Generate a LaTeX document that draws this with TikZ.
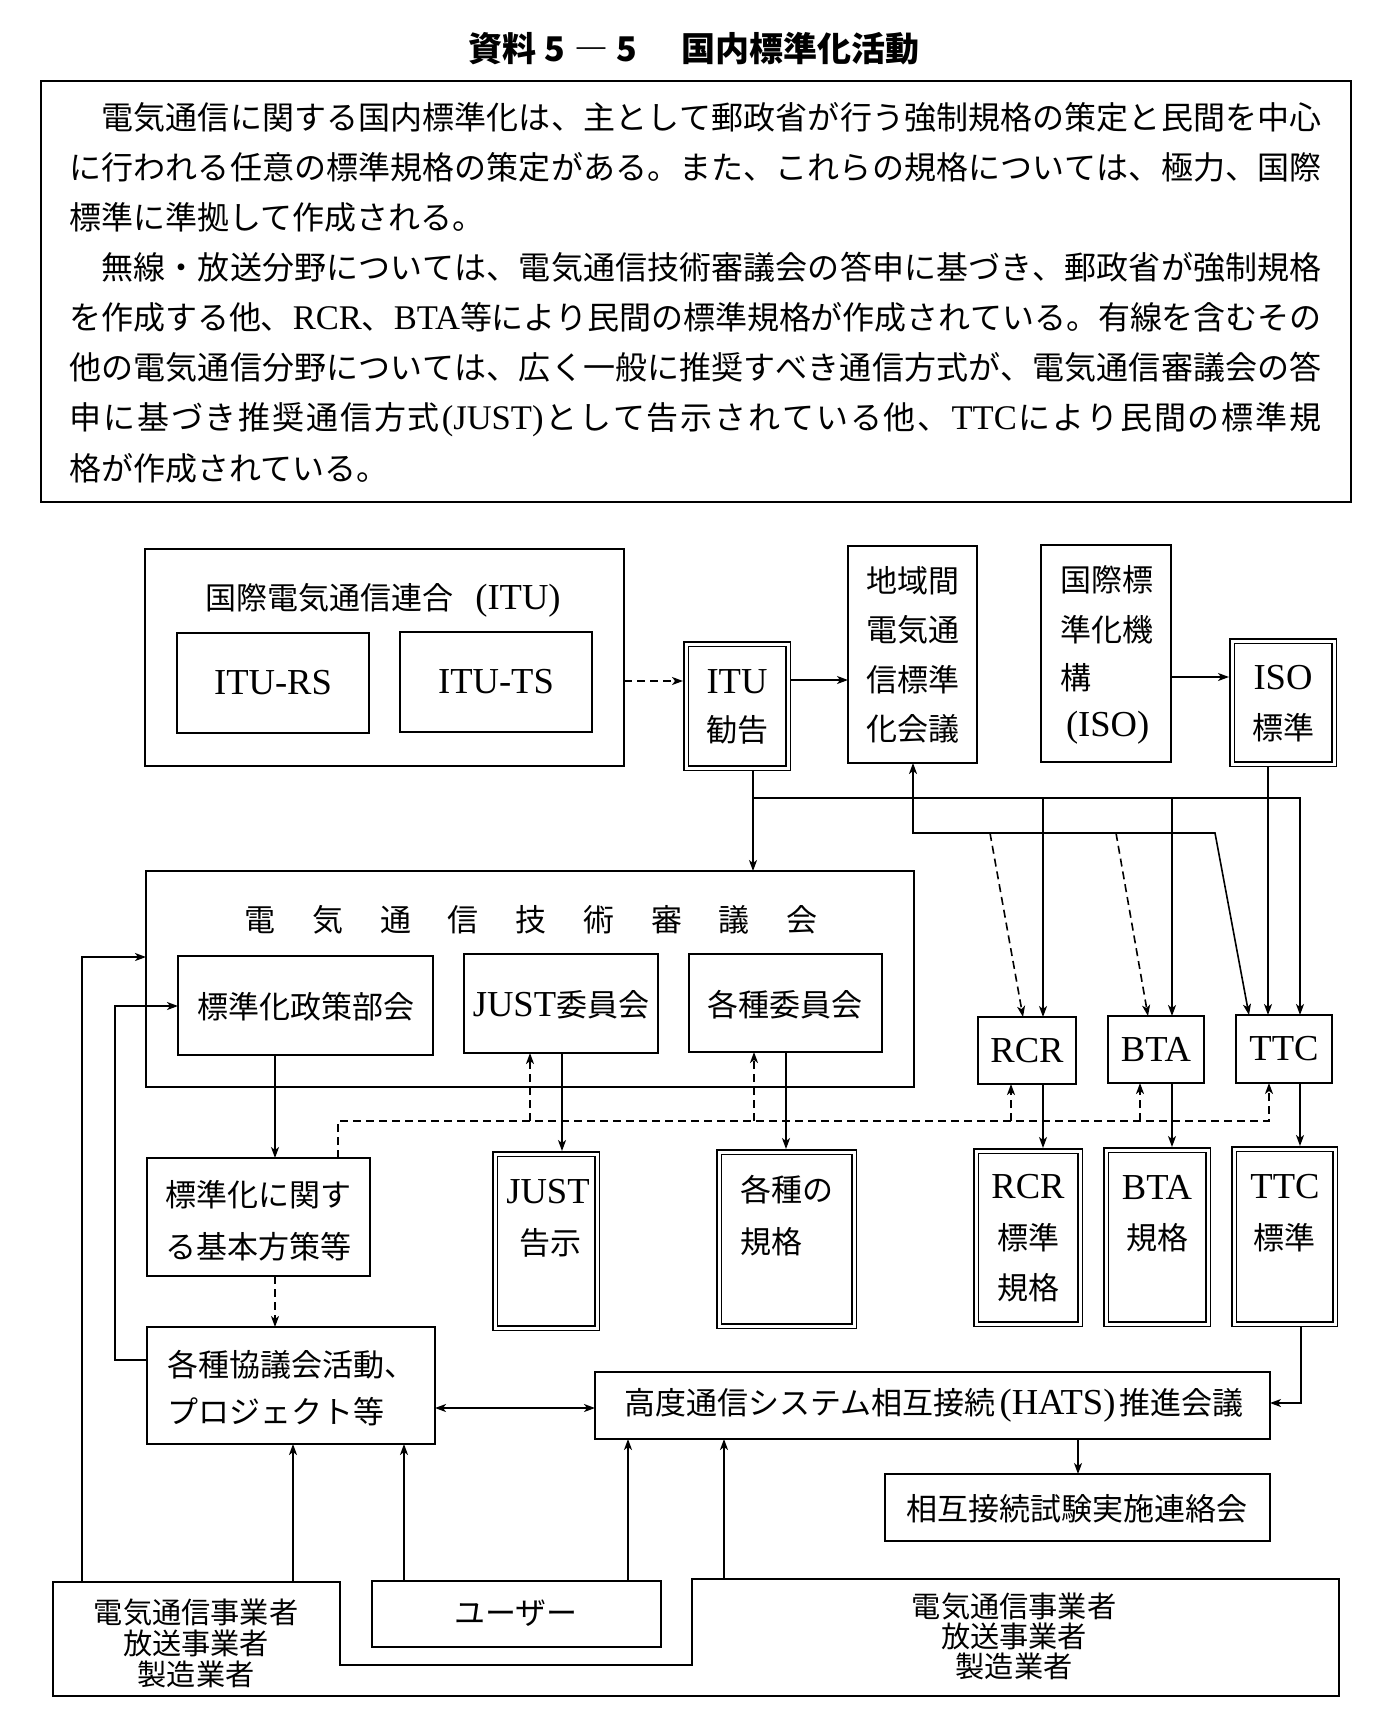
\documentclass[tikz,border=0pt]{standalone}
\usepackage{fontspec}
\setmainfont{Noto Sans CJK JP}
\newfontfamily\latn{Liberation Serif}[Scale=1.18]
\newfontfamily\latb{Liberation Serif}[Scale=1.08]
\usetikzlibrary{arrows.meta}
\makeatletter
\newlength\linew \setlength\linew{626pt}
\def\jl@end{\jl@end}
\newcommand\jline[1]{\hbox to \linew{\jl@first#1\jl@end}}
\def\jl@first#1{#1\jl@next}
\def\jl@next#1{\ifx\jl@end#1\else\hskip 0pt plus 1fil minus 1fil\relax #1\expandafter\jl@next\fi}
\makeatother
\newcommand\dfont{\fontsize{15.5}{18}\selectfont}
\newcommand\sfont{\fontsize{14.6}{15}\selectfont}
\newcommand\bodyf{\fontsize{16}{20}\selectfont}
\newcommand\bx[6][box]{\node[#1,minimum width={(#4-#2)*0.5pt},minimum height={(#5-#3)*0.5pt}] (#6) at ({(#2+#4)/2},{(#3+#5)/2}) {};}
\tikzset{
  box/.style={draw, line width=0.9pt, inner sep=0pt, outer sep=0pt},
  frame/.style={draw, line width=1.1pt, inner sep=0pt, outer sep=0pt},
  inv/.style={inner sep=0pt, outer sep=0pt},
  dbl/.style={draw, double, line width=0.75pt, double distance=1.5pt, inner sep=0pt, outer sep=1.5pt},
  con/.style={line width=0.8pt},
  arr/.style={-{Stealth[length=5.5pt,width=4pt,inset=1.5pt]}},
  arrb/.style={{Stealth[length=5.5pt,width=4pt,inset=1.5pt]}-{Stealth[length=5.5pt,width=4pt,inset=1.5pt]}},
  dsh/.style={dash pattern=on 4pt off 2.5pt},
  txt/.style={inner sep=0pt, outer sep=0pt, font=\dfont},
  stxt/.style={inner sep=0pt, outer sep=0pt, font=\sfont},
  bl/.style={inner sep=0pt, outer sep=0pt, anchor=base west, font=\bodyf},
}
\begin{document}
\begin{tikzpicture}[x=0.5pt,y=-0.5pt]
\useasboundingbox (0,0) rectangle (1389,1729);
\fill[white] (0,0) rectangle (1389,1729);

% title
\node[inner sep=0pt] (title) at (694,49) {\fontsize{17}{17}\selectfont\bfseries 資料\hspace{4pt}5\hspace{5pt}―\hspace{4pt}5\hspace{22pt}国内標準化活動};

% text frame
\bx[frame]{41}{81}{1351}{502}{tframe}
\node[bl] (l1) at (69.5,129) {\jline{{\kern16pt}電気通信に関する国内標準化は、主として郵政省が行う強制規格の策定と民間を中心}};
\node[bl] (l2) at (69.5,179) {\jline{に行われる任意の標準規格の策定がある。また、これらの規格については、極力、国際}};
\node[bl] (l3) at (69.5,229) {標準に準拠して作成される。};
\node[bl] (l4) at (69.5,279.5) {\jline{{\kern16pt}無線・放送分野については、電気通信技術審議会の答申に基づき、郵政省が強制規格}};
\node[bl] (l5) at (69.5,329.5) {\jline{を作成する他、{{\latb RCR}}、{{\latb BTA}}等により民間の標準規格が作成されている。有線を含むその}};
\node[bl] (l6) at (69.5,379.5) {\jline{他の電気通信分野については、広く一般に推奨すべき通信方式が、電気通信審議会の答}};
\node[bl] (l7) at (69.5,429.5) {\jline{申に基づき推奨通信方式{{\latb (JUST)}}として告示されている他、{{\latb TTC}}により民間の標準規}};
\node[bl] (l8) at (69.5,480) {格が作成されている。};

% ITU
\bx{145}{549}{624}{766}{ituorg}
\node[txt] (ituorgT) at (383,600) {国際電気通信連合\hspace{11pt}{\latn (ITU)}};
\bx{177}{633}{369}{733}{itursbox}
\node[txt] (itursT) at (itursbox) {\latn ITU-RS};
\bx{400}{632}{592}{732}{itutsbox}
\node[txt] (itutsT) at (itutsbox) {\latn ITU-TS};
\bx[dbl]{686}{644}{788}{768}{itukk}
\node[txt] (itukkA) at (737,682) {\latn ITU};
\node[txt] (itukkB) at (737,730) {勧告};
\bx{848}{546}{977}{763}{chiiki}
\node[txt] (chA) at (912.5,581) {地域間};
\node[txt] (chB) at (912.5,630) {電気通};
\node[txt] (chC) at (912.5,680) {信標準};
\node[txt] (chD) at (912.5,729) {化会議};
\bx{1041}{545}{1171}{762}{isoorg}
\node[txt,anchor=west] (isA) at (1060,580) {国際標};
\node[txt,anchor=west] (isB) at (1060,630) {準化機};
\node[txt,anchor=west] (isC) at (1060,678) {構};
\node[txt,anchor=west] (isD) at (1066,728) {\latn (ISO)};
\bx[dbl]{1232}{641}{1334}{764}{isokk}
\node[txt] (isokkA) at (1283,678) {\latn ISO};
\node[txt] (isokkB) at (1283,728) {標準};

% council
\bx{146}{871}{914}{1087}{tech}
\foreach \c [count=\i from 0] in {電,気,通,信,技,術,審,議,会} {\node[txt] (gi\i) at ({260+67.75*\i},920) {\c};}
\bx{178}{956}{433}{1055}{seisaku}
\node[txt] (seisakuT) at (306,1007) {標準化政策部会};
\bx{464}{954}{658}{1053}{justiin}
\node[txt] (justiinT) at (561,1005) {{\latn JUST}委員会};
\bx{689}{954}{882}{1052}{kakushu}
\node[txt] (kakushuT) at (785,1005) {各種委員会};
\bx{978}{1017}{1076}{1084}{rcr}
\node[txt] (rcrT) at (rcr) {\latn RCR};
\bx{1108}{1016}{1204}{1083}{bta}
\node[txt] (btaT) at (bta) {\latn BTA};
\bx{1236}{1015}{1332}{1083}{ttc}
\node[txt] (ttcT) at (ttc) {\latn TTC};

% standards
\bx{147}{1158}{370}{1276}{kihon}
\node[txt,anchor=west] (kihonA) at (165,1195) {標準化に関す};
\node[txt,anchor=west] (kihonB) at (165,1247) {る基本方策等};
\bx[dbl]{495}{1154}{597}{1328}{justk}
\node[txt] (justkA) at (548,1192) {\latn JUST};
\node[txt] (justkB) at (550,1243) {告示};
\bx[dbl]{719}{1152}{854}{1326}{kakuk}
\node[txt,anchor=west] (kakukA) at (740,1190) {各種の};
\node[txt,anchor=west] (kakukB) at (740,1242) {規格};
\bx[dbl]{976}{1151}{1080}{1324}{rcrk}
\node[txt] (rcrkA) at (1028,1187) {\latn RCR};
\node[txt] (rcrkB) at (1028,1238) {標準};
\node[txt] (rcrkC) at (1028,1288) {規格};
\bx[dbl]{1106}{1150}{1208}{1324}{btak}
\node[txt] (btakA) at (1157,1187) {\latn BTA};
\node[txt] (btakB) at (1157,1238) {規格};
\bx[dbl]{1234}{1149}{1335}{1324}{ttck}
\node[txt] (ttckA) at (1285,1187) {\latn TTC};
\node[txt] (ttckB) at (1284,1238) {標準};

% lower part
\bx{147}{1327}{435}{1444}{kyogi}
\node[txt,anchor=west] (kyogiA) at (167,1365) {各種協議会活動、};
\node[txt,anchor=west] (kyogiB) at (167,1412) {プロジェクト等};
\bx{595}{1372}{1270}{1439}{hats}
\node[txt] (hatsT) at (934,1405) {高度通信システム相互接続\hspace{2pt}{\latn (HATS)}\hspace{2pt}推進会議};
\bx{885}{1474}{1270}{1541}{sogo}
\node[txt] (sogoT) at (1077,1509) {相互接続試験実施連絡会};
\bx{372}{1581}{661}{1647}{users}
\node[txt] (usersT) at (516,1613) {ユーザー};
\bx[inv]{53}{1582}{340}{1696}{opl}
\bx[inv]{692}{1579}{1339}{1696}{opr}
\draw[line width=0.9pt] (opl.north west) -- (opl.north east) -- (opl.east |- 0,1665) -- (opr.west |- 0,1665) -- (opr.north west) -- (opr.north east) -- (opr.south east) -- (opl.south west) -- cycle;
\node[stxt] (oplA) at (196,1612) {電気通信事業者};
\node[stxt] (oplB) at (196,1643) {放送事業者};
\node[stxt] (oplC) at (196,1674) {製造業者};
\node[stxt] (oprA) at (1014,1606) {電気通信事業者};
\node[stxt] (oprB) at (1014,1636) {放送事業者};
\node[stxt] (oprC) at (1014,1666) {製造業者};

% junction coordinates
\coordinate (j1) at (753,798);
\coordinate (j1e) at (1300,798);
\coordinate (j2) at (1043,798);
\coordinate (j3) at (1172,798);
\coordinate (k1) at (913,833);
\coordinate (k2) at (1215,833);
\coordinate (k3) at (990,833);
\coordinate (k4) at (1116,833);
\coordinate (d1) at (338,1121);
\coordinate (d2) at (1269,1121);
\coordinate (d3) at (530,1121);
\coordinate (d4) at (754,1121);
\coordinate (d5) at (1011,1121);
\coordinate (d6) at (1140,1121);
\coordinate (h1) at (1301,1403);
\coordinate (e1) at (82,957);
\coordinate (e2) at (115,1360);
\coordinate (e3) at (115,1006);

% top connectors
\draw[con,dsh,arr] (ituorg.east |- 0,681) -- (itukk.west |- 0,681);
\draw[con,arr] (itukk.east |- 0,680) -- (chiiki.west |- 0,680);
\draw[con,arr] (isoorg.east |- 0,677) -- (isokk.west |- 0,677);
\draw[con,arr] (itukk.south -| j1) -- (tech.north -| j1);
\draw[con,arr] (j1) -- (j1e) -- (ttc.north -| j1e);
\draw[con,arr] (j2) -- (rcr.north -| j2);
\draw[con,arr] (j3) -- (bta.north -| j3);
\draw[con,arr] (isokk.south -| 1268,0) -- (ttc.north -| 1268,0);
\draw[con,arrb] (chiiki.south -| k1) -- (k1) -- (k2) -- (ttc.north -| 1249,0);
\draw[con,dsh,arr] (k3) -- (rcr.north -| 1023,0);
\draw[con,dsh,arr] (k4) -- (bta.north -| 1148,0);

% middle connectors
\draw[con,arr] (seisaku.south -| 275,0) -- (kihon.north -| 275,0);
\draw[con,dsh,arr] (kihon.south -| 275,0) -- (kyogi.north -| 275,0);
\draw[con,dsh,arr] (kihon.north -| d1) -- (d1) -- (d2) -- (ttc.south -| d2);
\draw[con,dsh,arr] (d3) -- (justiin.south -| d3);
\draw[con,dsh,arr] (d4) -- (kakushu.south -| d4);
\draw[con,dsh,arr] (d5) -- (rcr.south -| d5);
\draw[con,dsh,arr] (d6) -- (bta.south -| d6);
\draw[con,arr] (justiin.south -| 562,0) -- (justk.north -| 562,0);
\draw[con,arr] (kakushu.south -| 786,0) -- (kakuk.north -| 786,0);
\draw[con,arr] (rcr.south -| j2) -- (rcrk.north -| j2);
\draw[con,arr] (bta.south -| j3) -- (btak.north -| j3);
\draw[con,arr] (ttc.south -| j1e) -- (ttck.north -| j1e);

% bottom connectors
\draw[con,arr] (ttck.south -| h1) -- (h1) -- (hats.east |- h1);
\draw[con,arr] (hats.south -| 1078,0) -- (sogo.north -| 1078,0);
\draw[con,arrb] (kyogi.east |- 0,1408) -- (hats.west |- 0,1408);
\draw[con,arr] (opl.north -| e1) -- (e1) -- (tech.west |- e1);
\draw[con,arr] (kyogi.west |- e2) -- (e2) -- (e3) -- (seisaku.west |- e3);
\draw[con,arr] (opl.north -| 293,0) -- (kyogi.south -| 293,0);
\draw[con,arr] (users.north -| 404,0) -- (kyogi.south -| 404,0);
\draw[con,arr] (users.north -| 628,0) -- (hats.south -| 628,0);
\draw[con,arr] (opr.north -| 724,0) -- (hats.south -| 724,0);
\end{tikzpicture}
\end{document}
